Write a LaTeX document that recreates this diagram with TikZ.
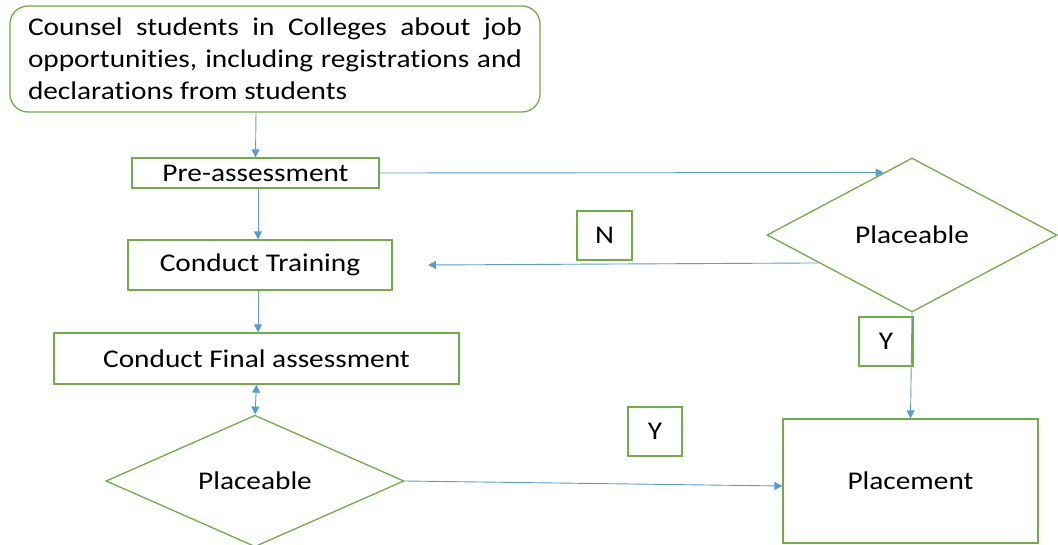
\documentclass[tikz,border=0pt]{standalone}
\usepackage{fontspec}
\setmainfont{Carlito}[FakeStretch=1.15, Ligatures=NoCommon]
\usetikzlibrary{shapes.geometric,arrows.meta,calc}
\definecolor{boxgreen}{HTML}{70AD47}
\definecolor{arrowblue}{HTML}{5B9BD5}
\begin{document}
\begin{tikzpicture}[x=1pt,y=-1pt,
  every node/.style={font=\fontsize{25.5}{32}\selectfont},
  box/.style={draw=boxgreen, line width=1.3pt, inner sep=0pt, align=center},
  decision/.style={draw=boxgreen, line width=1.3pt, diamond, inner sep=0pt},
  conn/.style={draw=arrowblue, line width=0.9pt, -{Triangle[length=8pt,width=8pt]}},
  both/.style={draw=arrowblue, line width=0.9pt, {Triangle[length=8pt,width=8pt]}-{Triangle[length=8pt,width=8pt]}},
]
\useasboundingbox (0,0) rectangle (1058,545);
\node[box, rounded corners=18pt, minimum width=530pt, minimum height=106pt] (counsel) at (275,59)
  {\parbox{494pt}{Counsel students in Colleges about job\linebreak opportunities, including registrations and\linebreak declarations from students}};
\node[box, minimum width=247pt, minimum height=30pt] (pre) at (255.5,173) {Pre-assessment};
\node[box, minimum width=264pt, minimum height=50pt] (train) at (260,265) {Conduct Training};
\node[box, minimum width=405pt, minimum height=51pt] (fin) at (256.5,358.5) {Conduct Final assessment};
\node[decision, minimum width=298pt, minimum height=126pt] (d2) at (255,481) {Placeable};
\node[decision, minimum width=290pt, minimum height=154pt] (d1) at (912,235) {Placeable};
\node[box, minimum width=255pt, minimum height=124pt] (pl) at (910.5,481) {Placement};
\node[box, minimum width=55pt, minimum height=49pt] (n) at (604.5,235.5) {N};
\node[box, minimum width=54pt, minimum height=49pt] (y1) at (886,341.5) {Y};
\node[box, minimum width=54pt, minimum height=49pt] (y2) at (655,431.5) {Y};
\coordinate (nend) at (428,265);

\draw[conn] ([xshift=-19pt]counsel.south) -- (pre.north);
\draw[conn] ([xshift=2.5pt]pre.south) -- ([xshift=2.5pt]pre.south |- train.north);
\draw[conn] ([xshift=-2pt]train.south) -- ([xshift=-2pt]train.south |- fin.north);
\draw[both] (fin.south) -- (d2.north);
\draw[conn] (pre.east) -- ($(d1.north)!0.195!(d1.west)$);
\draw[conn] ($(d1.west)!0.36!(d1.south)$) -- (nend);
\draw[conn] (d1.south) -- (pl.north);
\draw[conn] (d2.east) -- ([yshift=-5pt]pl.west);
\end{tikzpicture}
\end{document}
